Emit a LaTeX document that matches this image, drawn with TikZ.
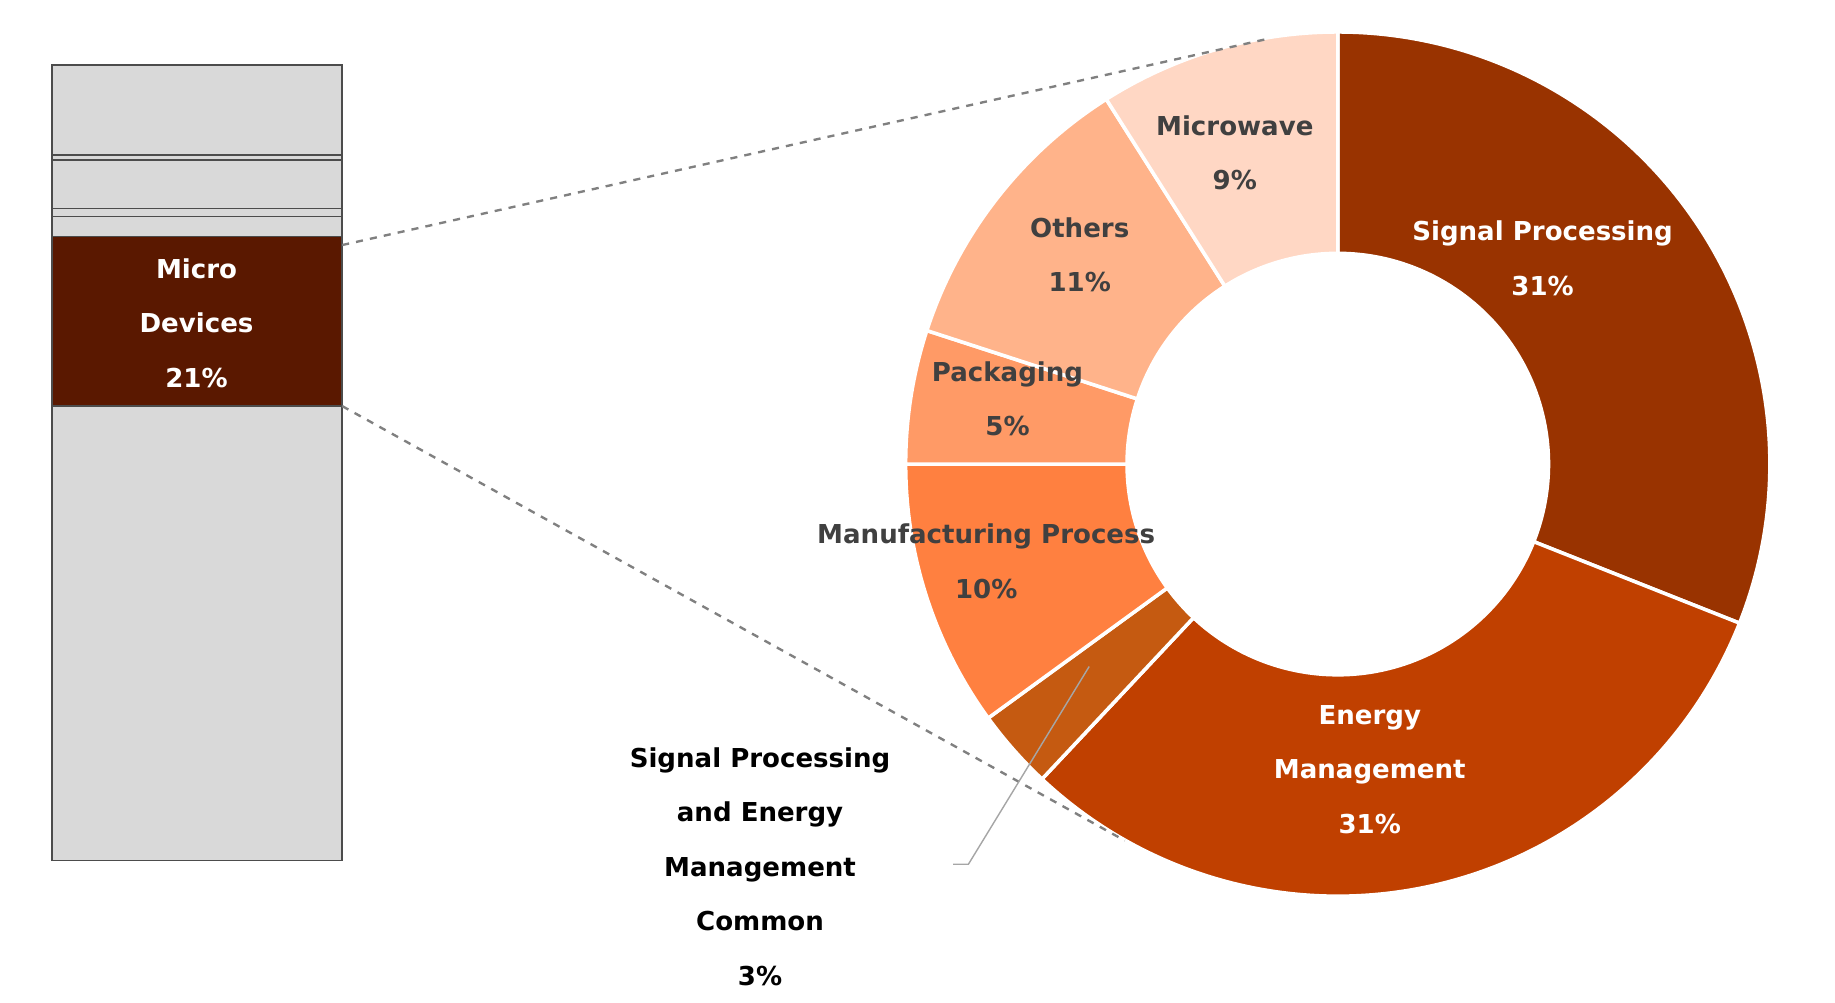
\documentclass[tikz,border=0pt]{standalone}
\usepackage{fontspec}
\setmainfont{DejaVu Sans}
\usetikzlibrary{calc}
\definecolor{segA}{HTML}{993300}
\definecolor{segB}{HTML}{C04000}
\definecolor{segC}{HTML}{C55A11}
\definecolor{segD}{HTML}{FF8040}
\definecolor{segE}{HTML}{FF9A66}
\definecolor{segF}{HTML}{FFB38A}
\definecolor{segG}{HTML}{FFD7C4}
\definecolor{barbg}{HTML}{D9D9D9}
\definecolor{bardark}{HTML}{5A1800}
\definecolor{txtdark}{HTML}{404040}
\tikzset{
  lbl/.style={align=center,font=\bfseries\fontsize{11}{23}\selectfont},
  lbllight/.style={lbl,text=white},
  lbldark/.style={lbl,text=txtdark},
  zoomline/.style={gray,dashed,line width=1pt},
  barpart/.style={fill=barbg,draw=black!70,line width=0.6pt}
}
\begin{document}
\begin{tikzpicture}[x=0.5pt,y=0.5pt]
\useasboundingbox (0,0) rectangle (1550,847);
% stacked bar
\draw[barpart] (44,504) rectangle (289,120);
\draw[barpart] (44,664) rectangle (289,647);
\draw[barpart] (44,671) rectangle (289,664);
\draw[barpart] (44,712) rectangle (289,671);
\draw[barpart] (44,716) rectangle (289,712);
\draw[barpart] (44,792) rectangle (289,716);
\draw[fill=bardark,draw=black!70,line width=0.6pt] (44,647) rectangle (289,504);
\node[lbllight] (micro) at (166,574) {Micro\\Devices\\21\%};
% donut
\coordinate (c) at (1130,455);
\foreach \a/\b/\col in {90/-21.6/segA,-21.6/-133.2/segB,-133.2/-144/segC,-144/-180/segD,-180/-198/segE,-198/-237.6/segF,-237.6/-270/segG}
  \filldraw[fill=\col,draw=white,line width=1.5pt] ($(c)+(\a:182.5pt)$) arc[start angle=\a,end angle=\b,radius=182.5pt] -- ($(c)+(\b:89pt)$) arc[start angle=\b,end angle=\a,radius=89pt] -- cycle;
\node[lbllight] (sp) at (1303,629) {Signal Processing\\31\%};
\node[lbllight] (em) at (1157,197) {Energy\\Management\\31\%};
\node[lbldark] (mfg) at (833,373) {Manufacturing Process\\10\%};
\node[lbldark] (pack) at (851,510) {Packaging\\5\%};
\node[lbldark] (oth) at (912,632) {Others\\11\%};
\node[lbldark] (mw) at (1043,718) {Microwave\\9\%};
\node[lbl] (common) at (642,115) {Signal Processing\\and Energy\\Management\\Common\\3\%};
% zoom lines
\coordinate (bt) at (289,640);
\coordinate (bb) at (289,504);
\coordinate (dt) at (1070,814);
\coordinate (db) at (950,137);
\draw[zoomline] (bt) -- (dt);
\draw[zoomline] (bb) -- (db);
% leader
\coordinate (lp) at (920,284);
\coordinate (lk) at (818,117);
\coordinate (le) at (805,117);
\draw[gray!70,line width=0.6pt] (lp) -- (lk) -- (le);
\end{tikzpicture}
\end{document}
